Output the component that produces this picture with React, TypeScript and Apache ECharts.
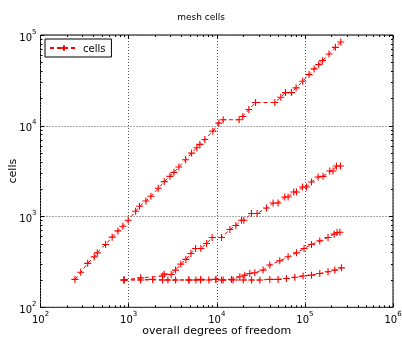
import React, { useEffect, useRef } from 'react';
import * as echarts from 'echarts';

const mainDof = [246, 286, 343, 407, 441, 548, 651, 756, 861, 989, 1200, 1330, 1571, 1790, 2168, 2536, 2940, 3264, 3718, 4430, 5179, 5946, 6430, 7330, 9030, 10570, 11830, 17950, 19770, 23120, 27540, 45600, 53330, 60300, 70500, 79500, 94600, 111600, 127200, 143800, 158400, 188000, 222000, 255500];
const mainCells = [203, 243, 305, 359, 398, 492, 593, 695, 782, 910, 1143, 1297, 1483, 1670, 2046, 2425, 2773, 3069, 3508, 4227, 4999, 5728, 6232, 7068, 8727, 10690, 11650, 11650, 12650, 15100, 18030, 18030, 20610, 23210, 23210, 26160, 30940, 36640, 42300, 47140, 52200, 61800, 73100, 83800];

const midDof = [885, 1368, 2430, 2533, 3041, 3411, 3917, 4463, 5087, 5750, 6602, 7663, 8866, 11330, 14080, 16470, 19100, 20290, 24760, 28710, 36700, 43600, 49660, 59160, 64500, 74830, 80300, 93970, 104300, 118800, 141200, 160800, 191600, 208800, 228000, 253300];
const midCells = [200, 211, 221, 232, 230, 257, 299, 337, 392, 445, 445, 505, 588, 588, 720, 796, 910, 910, 1079, 1079, 1243, 1410, 1410, 1641, 1641, 1862, 1862, 2114, 2114, 2400, 2723, 2773, 3170, 3170, 3597, 3597];

const lowDof = [885, 1871, 2790, 4826, 6548, 9770, 11820, 14720, 18280, 20830, 23720, 27040, 33580, 40000, 51900, 64500, 80300, 97900, 118800, 147500, 183200, 215000, 231800, 250000];
const lowCells = [200, 203, 200, 200, 203, 203, 200, 203, 217, 226, 236, 240, 257, 292, 325, 360, 398, 445, 492, 539, 588, 640, 665, 672];

const flatDof = [885, 1368, 2430, 3411, 4826, 5795, 6548, 8136, 9770, 11330, 15350, 20000, 24810, 30820, 40000, 49660, 61840, 76860, 95400, 118800, 147500, 183200, 218300, 260000];
const flatCells = [200, 200, 200, 200, 200, 200, 200, 200, 203, 200, 200, 200, 200, 200, 203, 203, 208, 214, 221, 226, 236, 246, 257, 272];

const xMajor = [100, 1000, 10000, 100000, 1000000];
const yMajor = [100, 1000, 10000, 100000];

const minorsFor = (from: number, to: number) => {
  const out: number[] = [];
  for (let d = from; d < to; d++) for (let m = 2; m <= 9; m++) out.push(m * Math.pow(10, d));
  return out;
};

const FONT = 'DejaVu Sans';
const pair = (xs: number[], ys: number[]) => xs.map((x, i) => [x, ys[i]]);

export default function App() {
  const ref = useRef<HTMLDivElement>(null);
  useEffect(() => {
    const chart = echarts.init(ref.current!, null, { renderer: 'svg' });
    const rich = {
      b: { fontSize: 10, fontFamily: FONT, color: '#000', lineHeight: 14, verticalAlign: 'bottom' },
      s: { fontSize: 7, fontFamily: FONT, color: '#000', lineHeight: 14, verticalAlign: 'top' },
    };
    const fmt = (v: number) => `{b|10}{s|${Math.round(Math.log10(v))}}`;
    const minorX = minorsFor(2, 6);
    const minorY = minorsFor(2, 5);
    const baseAxis = (min: number, max: number) => ({ type: 'log', logBase: 10, min, max, axisLine: { show: false } });
    const plus = 'path://M0,5L10,5M5,0L5,10';
    const mkSeries = (name: string, data: number[][]) => ({
      name,
      type: 'line',
      data,
      symbol: plus,
      symbolSize: 7,
      itemStyle: { color: '#ff0000', borderColor: '#ff0000', borderWidth: 1.1 },
      lineStyle: { color: '#ff0000', width: 1, type: [4, 3] },
      emphasis: { disabled: true },
      xAxisIndex: 0,
      yAxisIndex: 0,
    });
    chart.setOption({
      animation: false,
      textStyle: { fontFamily: FONT },
      title: { text: 'mesh cells', left: 'center', top: 7, textStyle: { fontSize: 9, fontWeight: 'normal', color: '#000', fontFamily: FONT } },
      grid: { left: 40.5, right: 9, top: 35, bottom: 30.7, show: true, borderColor: '#000', borderWidth: 1, backgroundColor: 'transparent', containLabel: false, outerBoundsMode: 'none' },
      legend: {
        data: ['cells'], left: 45, top: 39, orient: 'vertical',
        borderColor: '#000', borderWidth: 1, borderRadius: 0, padding: [4, 6, 4, 4],
        itemWidth: 28, itemHeight: 7, itemGap: 4,
        textStyle: { fontSize: 10, fontFamily: FONT, color: '#000' },
      },
      xAxis: [
        { ...baseAxis(100, 1e6), position: 'bottom', name: 'overall degrees of freedom', nameLocation: 'middle', nameGap: 18, nameMoveOverlap: false,
          nameTextStyle: { fontSize: 11, fontFamily: FONT, color: '#000' },
          axisTick: { inside: true, length: 4, customValues: xMajor, lineStyle: { color: '#000' } },
          axisLabel: { formatter: fmt, rich, margin: 3, customValues: xMajor },
          splitLine: { show: true, lineStyle: { color: '#555', type: [1, 2], width: 1 } } },
        { ...baseAxis(100, 1e6), position: 'bottom', axisTick: { inside: true, length: 2, customValues: minorX, lineStyle: { color: '#000' } }, axisLabel: { show: false }, splitLine: { show: false } },
        { ...baseAxis(100, 1e6), position: 'top', axisTick: { inside: true, length: 4, customValues: xMajor, lineStyle: { color: '#000' } }, axisLabel: { show: false }, splitLine: { show: false } },
        { ...baseAxis(100, 1e6), position: 'top', axisTick: { inside: true, length: 2, customValues: minorX, lineStyle: { color: '#000' } }, axisLabel: { show: false }, splitLine: { show: false } },
      ],
      yAxis: [
        { ...baseAxis(100, 1e5), position: 'left', name: 'cells', nameLocation: 'middle', nameGap: 23, nameMoveOverlap: false,
          nameTextStyle: { fontSize: 11, fontFamily: FONT, color: '#000' },
          axisTick: { inside: true, length: 4, customValues: yMajor, lineStyle: { color: '#000' } },
          axisLabel: { formatter: fmt, rich, margin: 4, customValues: yMajor },
          splitLine: { show: true, lineStyle: { color: '#555', type: [1, 2], width: 1 } } },
        { ...baseAxis(100, 1e5), position: 'left', axisTick: { inside: true, length: 2, customValues: minorY, lineStyle: { color: '#000' } }, axisLabel: { show: false }, splitLine: { show: false } },
        { ...baseAxis(100, 1e5), position: 'right', axisTick: { inside: true, length: 4, customValues: yMajor, lineStyle: { color: '#000' } }, axisLabel: { show: false }, splitLine: { show: false } },
        { ...baseAxis(100, 1e5), position: 'right', axisTick: { inside: true, length: 2, customValues: minorY, lineStyle: { color: '#000' } }, axisLabel: { show: false }, splitLine: { show: false } },
      ],
      series: [
        mkSeries('cells', pair(mainDof, mainCells)),
        mkSeries('cells-2', pair(midDof, midCells)),
        mkSeries('cells-3', pair(lowDof, lowCells)),
        mkSeries('cells-4', pair(flatDof, flatCells)),
      ],
    });
    return () => chart.dispose();
  }, []);
  return <div ref={ref} style={{ position: 'fixed', left: 0, top: 0, width: 402, height: 338 }} />;
}
